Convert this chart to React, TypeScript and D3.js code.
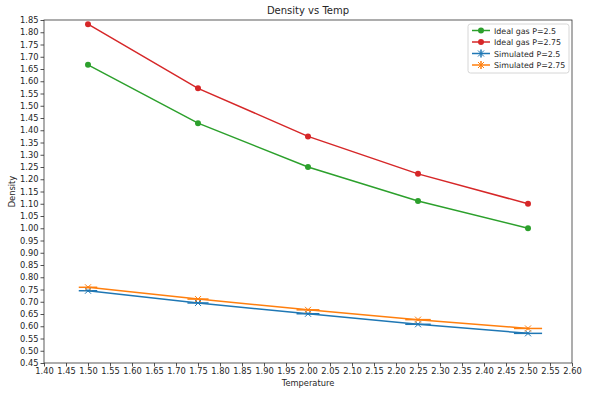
import React, { useEffect, useRef } from "react";
import * as d3 from "d3";

const TEMPS = [1.5, 1.75, 2.0, 2.25, 2.5];
const IDEAL_25 = [1.667, 1.429, 1.25, 1.111, 1.0];
const IDEAL_275 = [1.833, 1.571, 1.375, 1.222, 1.1];
const SIM_25 = [0.745, 0.695, 0.651, 0.608, 0.571];
const SIM_275 = [0.759, 0.711, 0.667, 0.627, 0.591];
const SIM_XERR = [0.021, 0.024, 0.026, 0.029, 0.032];
const SIM_YERR = [0.004, 0.004, 0.004, 0.004, 0.004];

const X_TICKS = d3.range(0, 25).map(i => +(1.4 + i * 0.05).toFixed(2));
const Y_TICKS = d3.range(0, 29).map(i => +(0.45 + i * 0.05).toFixed(2));

const COLORS = { blue: "#1f77b4", orange: "#ff7f0e", green: "#2ca02c", red: "#d62728" };

export default function App() {
  const svgRef = useRef<SVGSVGElement>(null);

  useEffect(() => {
    const width = 600, height = 397;
    const margin = { top: 20, right: 28, bottom: 34, left: 44 };
    const innerW = width - margin.left - margin.right;
    const innerH = height - margin.top - margin.bottom;
    const font = "DejaVu Sans, sans-serif";
    const textColor = "#262626";

    const svg = d3.select(svgRef.current);
    svg.selectAll("*").remove();
    svg.attr("width", width).attr("height", height);
    svg.append("rect").attr("width", width).attr("height", height).attr("fill", "#fff");

    const g = svg.append("g").attr("transform", `translate(${margin.left},${margin.top})`);

    const x = d3.scaleLinear().domain([1.4, 2.6]).range([0, innerW]);
    const y = d3.scaleLinear().domain([0.45, 1.85]).range([innerH, 0]);

    const line = d3.line<[number, number]>().x(d => x(d[0])).y(d => y(d[1]));

    // Simulated series with error bars
    const sims = [
      { vals: SIM_25, color: COLORS.blue },
      { vals: SIM_275, color: COLORS.orange },
    ];
    sims.forEach(s => {
      const pts = TEMPS.map((t, i) => [t, s.vals[i]] as [number, number]);
      const eg = g.append("g");
      pts.forEach((p, i) => {
        eg.append("line")
          .attr("x1", x(p[0] - SIM_XERR[i])).attr("x2", x(p[0] + SIM_XERR[i]))
          .attr("y1", y(p[1])).attr("y2", y(p[1]))
          .attr("stroke", s.color).attr("stroke-width", 1.5);
        eg.append("line")
          .attr("x1", x(p[0])).attr("x2", x(p[0]))
          .attr("y1", y(p[1] - SIM_YERR[i])).attr("y2", y(p[1] + SIM_YERR[i]))
          .attr("stroke", s.color).attr("stroke-width", 1.5);
      });
      g.append("path").attr("d", line(pts)).attr("fill", "none")
        .attr("stroke", s.color).attr("stroke-width", 1.5);
      pts.forEach(p => {
        const cx = x(p[0]), cy = y(p[1]), r = 3;
        g.append("path")
          .attr("d", `M${cx - r},${cy - r}L${cx + r},${cy + r}M${cx - r},${cy + r}L${cx + r},${cy - r}`)
          .attr("stroke", s.color).attr("stroke-width", 1);
      });
    });

    // Ideal gas series
    const ideals = [
      { vals: IDEAL_25, color: COLORS.green },
      { vals: IDEAL_275, color: COLORS.red },
    ];
    ideals.forEach(s => {
      const pts = TEMPS.map((t, i) => [t, s.vals[i]] as [number, number]);
      g.append("path").attr("d", line(pts)).attr("fill", "none")
        .attr("stroke", s.color).attr("stroke-width", 1.5);
      g.selectAll(null).data(pts).join("circle")
        .attr("cx", d => x(d[0])).attr("cy", d => y(d[1]))
        .attr("r", 3).attr("fill", s.color);
    });

    // Axes
    const styleAxis = (sel: any) => {
      sel.select(".domain").remove();
      sel.selectAll(".tick line").attr("stroke", textColor).attr("stroke-width", 0.8);
      sel.selectAll(".tick text").attr("fill", textColor).style("font-family", font).style("font-size", "8.3px");
    };
    g.append("g")
      .attr("transform", `translate(0,${innerH})`)
      .call(d3.axisBottom(x).tickValues(X_TICKS).tickFormat(d3.format(".2f")).tickSize(3.5).tickPadding(2))
      .call(styleAxis);
    g.append("g")
      .call(d3.axisLeft(y).tickValues(Y_TICKS).tickFormat(d3.format(".2f")).tickSize(3.5).tickPadding(2))
      .call(styleAxis);

    // Frame
    g.append("rect").attr("width", innerW).attr("height", innerH)
      .attr("fill", "none").attr("stroke", "#333").attr("stroke-width", 0.8);

    // Labels
    svg.append("text").attr("x", margin.left + innerW / 2).attr("y", 14)
      .attr("text-anchor", "middle").attr("fill", textColor)
      .style("font-family", font).style("font-size", "10px").text("Density vs Temp");
    svg.append("text").attr("x", margin.left + innerW / 2).attr("y", 386)
      .attr("text-anchor", "middle").attr("fill", textColor)
      .style("font-family", font).style("font-size", "8.3px").text("Temperature");
    svg.append("text").attr("transform", `translate(15,${margin.top + innerH / 2}) rotate(-90)`)
      .attr("text-anchor", "middle").attr("fill", textColor)
      .style("font-family", font).style("font-size", "8.3px").text("Density");

    // Legend
    const legendItems = [
      { label: "Ideal gas P=2.5", color: COLORS.green, kind: "circle" },
      { label: "Ideal gas P=2.75", color: COLORS.red, kind: "circle" },
      { label: "Simulated P=2.5", color: COLORS.blue, kind: "err" },
      { label: "Simulated P=2.75", color: COLORS.orange, kind: "err" },
    ];
    const lg = svg.append("g").attr("transform", "translate(468,24)");
    lg.append("rect").attr("width", 101).attr("height", 49).attr("rx", 2.5)
      .attr("fill", "#fff").attr("fill-opacity", 0.8).attr("stroke", "#ccc").attr("stroke-width", 0.8);
    legendItems.forEach((it, i) => {
      const yy = 6.5 + i * 11.5;
      lg.append("line").attr("x1", 4).attr("x2", 22).attr("y1", yy).attr("y2", yy)
        .attr("stroke", it.color).attr("stroke-width", 1.5);
      if (it.kind === "circle") {
        lg.append("circle").attr("cx", 13).attr("cy", yy).attr("r", 3).attr("fill", it.color);
      } else {
        lg.append("line").attr("x1", 13).attr("x2", 13).attr("y1", yy - 4).attr("y2", yy + 4)
          .attr("stroke", it.color).attr("stroke-width", 1.5);
        lg.append("path")
          .attr("d", `M10,${yy - 3}L16,${yy + 3}M10,${yy + 3}L16,${yy - 3}`)
          .attr("stroke", it.color).attr("stroke-width", 1);
      }
      lg.append("text").attr("x", 26).attr("y", yy + 3).attr("fill", textColor)
        .style("font-family", font).style("font-size", "7.9px").text(it.label);
    });
  }, []);

  return (
    <div style={{ position: "absolute", left: 0, top: 0 }}>
      <svg ref={svgRef} style={{ display: "block" }} />
    </div>
  );
}
